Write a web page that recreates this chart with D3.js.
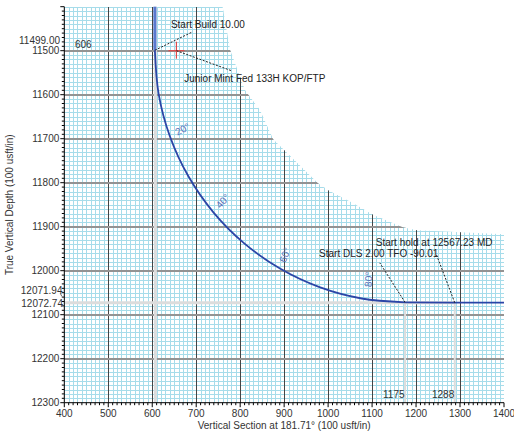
<!DOCTYPE html>
<html><head><meta charset="utf-8">
<script src="https://cdn.jsdelivr.net/npm/d3@7"></script>
<style>
body{margin:0;background:#fff;}
text{font-family:"Liberation Sans",Arial,sans-serif;}
</style></head>
<body><svg id="c" width="514" height="431"></svg>
<script>
// ---- data ----
const xTicks = [400,500,600,700,800,900,1000,1100,1200,1300,1400];
const yTicks = [11500,11600,11700,11800,11900,12000,12100,12200,12300];
const yExtraVals = [11499.00, 12071.94, 12072.74];
const yExtraLabels = ["11499.00", "12071.94", "12072.74"];
const vsMarkVals = [606, 1175, 1288];
const vsMarkLabels = ["606", "1175", "1288"];
// well path (VS, TVD, inclination)
const wellVS  = [606, 606, 614.6, 640.3, 682.2, 739.1, 809.3, 890.5, 980.4, 1076.2, 1175, 1288, 1400];
const wellTVD = [11400, 11499, 11598.5, 11695.0, 11785.5, 11867.3, 11937.9, 11995.2, 12037.4, 12063.2, 12071.94, 12072.74, 12072.74];
const wellInc = [0, 0, 10, 20, 30, 40, 50, 60, 70, 80, 90, 90, 90];
const incMarks = [20, 40, 60, 80];
// grid sheet edge (VS, TVD)
const sheetVS  = [760, 777, 811, 845, 875, 977, 1000, 1056, 1102, 1170, 1202, 1400];
const sheetTVD = [11400, 11498, 11590, 11635, 11701, 11801, 11817, 11846, 11873, 11901, 11908, 11917];
// annotations
const annText = ["Start Build 10.00", "Junior Mint Fed 133H KOP/FTP", "Start DLS 2.00 TFO -90.01", "Start hold at 12567.23 MD"];
const annVS   = [606, 655, 1175, 1288];
const annTVD  = [11499, 11500, 12071.94, 12072.74];
const targetVS = 655, targetTVD = 11500;

// ---- layout ----
const L = 64.3, R = 504, T = 6.7, B = 402.7;
const x = d3.scaleLinear().domain([400,1400]).range([L,R]);
const y = d3.scaleLinear().domain([11400,12300]).range([T,B]);
const sx = v => Math.round(x(v)) + 0.5, sy = v => Math.round(y(v)) + 0.5;
const svg = d3.select("#c");

// clip for grid sheet
const sheetPts = [[400,11400]].concat(sheetVS.map((v,i)=>[v,sheetTVD[i]])).concat([[1400,12300],[400,12300]]);
svg.append("clipPath").attr("id","sheet").append("path")
  .attr("d", d3.line().x(d=>x(d[0])).y(d=>y(d[1]))(sheetPts)+"Z");

const g = svg.append("g").attr("clip-path","url(#sheet)").attr("shape-rendering","crispEdges");
const minorX = d3.range(400,1401,10), minorY = d3.range(11400,12301,10);
g.selectAll(".mx").data(minorX).enter().append("line")
  .attr("x1",sx).attr("x2",sx).attr("y1",T).attr("y2",B)
  .attr("stroke","#a6dcea").attr("stroke-width",1);
g.selectAll(".my").data(minorY).enter().append("line")
  .attr("y1",sy).attr("y2",sy).attr("x1",L).attr("x2",R)
  .attr("stroke","#a6dcea").attr("stroke-width",1);
g.selectAll(".Mx").data(xTicks.slice(1)).enter().append("line")
  .attr("x1",sx).attr("x2",sx).attr("y1",T).attr("y2",B)
  .attr("stroke","#444").attr("stroke-width",1);
g.selectAll(".My").data(yTicks.slice(0,-1)).enter().append("line")
  .attr("y1",d=>Math.round(y(d))).attr("y2",d=>Math.round(y(d))).attr("x1",L).attr("x2",R)
  .attr("stroke","#939393").attr("stroke-width",2);

// reference bands
const band = "#dcdcdc";
svg.append("line").attr("x1",x(606)+0.5).attr("x2",x(606)+0.5).attr("y1",T).attr("y2",B).attr("stroke",band).attr("stroke-width",3);
svg.append("line").attr("x1",L).attr("x2",x(1288)).attr("y1",y(12072.74)).attr("y2",y(12072.74)).attr("stroke",band).attr("stroke-width",3);
[1175,1288].forEach(v=>{
  svg.append("line").attr("x1",x(v)).attr("x2",x(v)).attr("y1",y(12072.74)).attr("y2",B).attr("stroke",band).attr("stroke-width",2);
});

// well path
const pts = wellVS.map((v,i)=>({vs:v,tvd:wellTVD[i],inc:wellInc[i]}));
const line = d3.line().x(d=>x(d.vs)).y(d=>y(d.tvd));
svg.append("path").attr("d", line(pts.slice(0,2))).attr("fill","none").attr("stroke","#5a78cf").attr("stroke-width",3);
svg.append("path").attr("d", d3.line().x(d=>x(d.vs)).y(d=>y(d.tvd)).curve(d3.curveCatmullRom)(pts.slice(1,11))).attr("fill","none").attr("stroke","#2b45a6").attr("stroke-width",1.8);
svg.append("path").attr("d", line(pts.slice(10))).attr("fill","none").attr("stroke","#2b45a6").attr("stroke-width",1.8);

// inclination labels
incMarks.forEach(a=>{
  const p = pts.find(d=>d.inc===a);
  const rot = -Math.min(a+8, 86);
  svg.append("text").attr("transform",`translate(${x(p.vs)},${y(p.tvd)}) rotate(${rot})`)
    .attr("x", a===80?12:7).attr("y", a===80?9:3).attr("font-size",10).attr("fill","#5a72b8").text(a+"°");
});

// target cross
svg.append("line").attr("x1",x(targetVS)-8).attr("x2",x(targetVS)+8).attr("y1",y(targetTVD)).attr("y2",y(targetTVD)).attr("stroke","#e04848").attr("stroke-width",1.2);
svg.append("line").attr("x1",x(targetVS)).attr("x2",x(targetVS)).attr("y1",y(targetTVD)-9).attr("y2",y(targetTVD)+8).attr("stroke","#e04848").attr("stroke-width",1.2);

// annotations (leader end offset, text offset)
const annLayout = [[36.8,-18,16,-22.3],[55,20,7.8,31.6],[-25.3,-39.5,-86,-45],[-18.3,-48,-79,-57]];
annText.forEach((t,i)=>{
  const ax = x(annVS[i]), ay = y(annTVD[i]), lo = annLayout[i];
  svg.append("line").attr("x1",ax).attr("y1",ay).attr("x2",ax+lo[0]).attr("y2",ay+lo[1])
    .attr("stroke","#222").attr("stroke-width",1).attr("stroke-dasharray","2,1.5");
  svg.append("text").attr("x",ax+lo[2]).attr("y",ay+lo[3]).attr("font-size",10).attr("fill","#222").text(t);
});

// VS marker labels
svg.append("text").attr("x",75).attr("y",48).attr("font-size",10).attr("fill","#333").text(vsMarkLabels[0]);
vsMarkVals.slice(1).forEach((v,i)=>{
  svg.append("text").attr("x",x(v)-0.5).attr("y",B-4.5).attr("text-anchor","end").attr("font-size",10).attr("fill","#333").text(vsMarkLabels[i+1]);
});

// axes
const yAxis = svg.append("g").attr("transform",`translate(${L},0)`);
yAxis.append("line").attr("x1",0).attr("x2",0).attr("y1",T).attr("y2",B).attr("stroke","#000");
yAxis.selectAll(".t").data(minorY).enter().append("line")
  .attr("x1",d=>d%100===0?-4:-2.5).attr("x2",0).attr("y1",d=>y(d)).attr("y2",d=>y(d)).attr("stroke","#000").attr("stroke-width",1);
yAxis.selectAll(".l").data(yTicks).enter().append("text")
  .attr("x",-5).attr("y",d=>y(d)+3.6).attr("text-anchor","end").attr("font-size",10).attr("fill","#333").text(d=>d);
const extraOff = [-9.5, -12.2, 0.9];
const extraRight = [-4.3, -1.8, -1.3];
yExtraVals.forEach((v,i)=>{
  yAxis.append("text").attr("x",extraRight[i]).attr("y",y(v)+3.6+extraOff[i]).attr("text-anchor","end").attr("font-size",10).attr("fill","#333").text(yExtraLabels[i]);
});
yAxis.append("line").attr("x1",-4).attr("y1",y(12071.94)-9).attr("x2",-2.5).attr("y2",y(12071.94)-6).attr("stroke","#444").attr("stroke-width",0.8);

const xAxis = svg.append("g").attr("transform",`translate(0,${B})`);
xAxis.append("line").attr("x1",L).attr("x2",R).attr("y1",0).attr("y2",0).attr("stroke","#000");
xAxis.selectAll(".t").data(minorX).enter().append("line")
  .attr("x1",d=>x(d)).attr("x2",d=>x(d)).attr("y1",0).attr("y2",d=>d%100===0?4.5:2.5).attr("stroke","#000").attr("stroke-width",1);
xAxis.selectAll(".l").data(xTicks).enter().append("text")
  .attr("x",d=>x(d)).attr("y",14).attr("text-anchor","middle").attr("font-size",10).attr("fill","#333").text(d=>d);

svg.append("text").attr("x",(L+R)/2).attr("y",428.5).attr("text-anchor","middle").attr("font-size",10).attr("fill","#333")
  .text("Vertical Section at 181.71° (100 usft/in)");
svg.append("text").attr("transform",`translate(13,${(T+B)/2}) rotate(-90)`).attr("text-anchor","middle").attr("font-size",10).attr("fill","#333")
  .text("True Vertical Depth (100 usft/in)");
</script></body></html>
